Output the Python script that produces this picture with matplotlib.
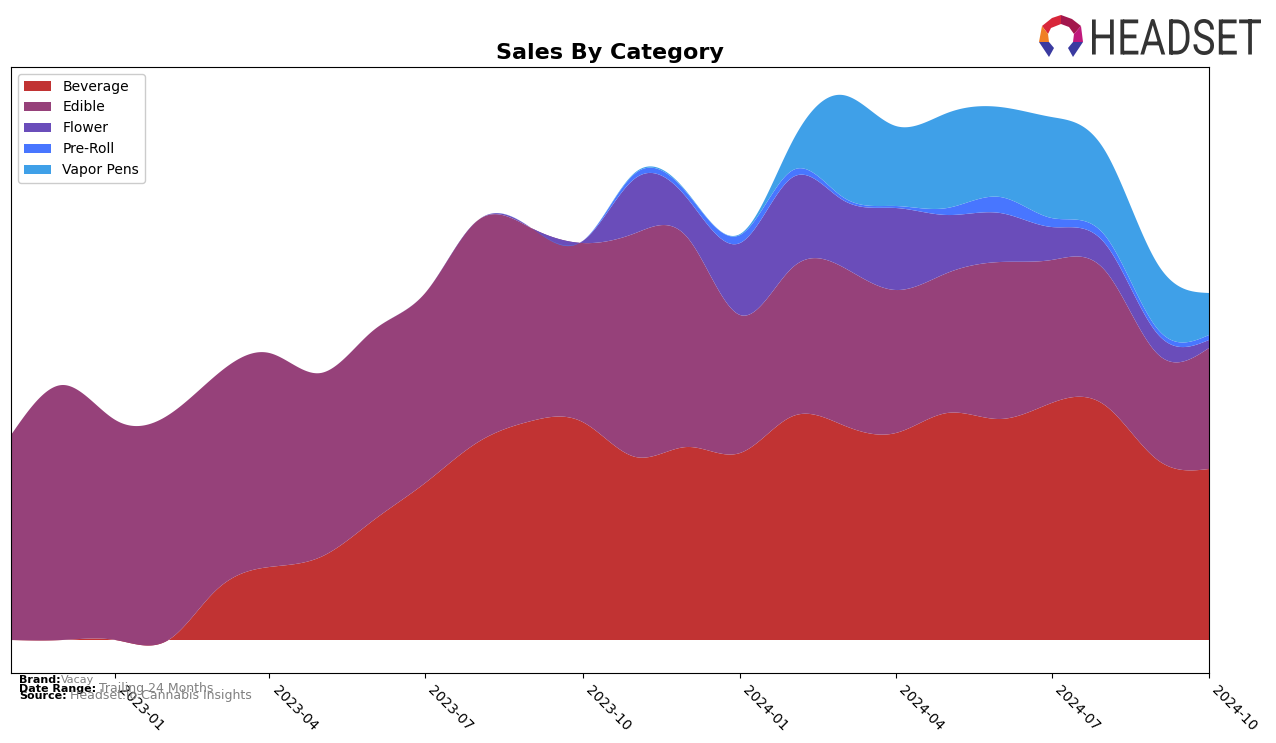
import numpy as np
import matplotlib.pyplot as plt
import matplotlib.dates as mdates
from matplotlib.patches import Polygon, PathPatch
from matplotlib.textpath import TextPath
from matplotlib.font_manager import FontProperties
from matplotlib.transforms import Affine2D

# monthly sales (arbitrary units)
months = np.arange('2022-11', '2024-11', dtype='datetime64[M]').astype('datetime64[D]')
categories = ['Beverage', 'Edible', 'Flower', 'Pre-Roll', 'Vapor Pens']
beverage = [0, 0, 0, 0, 50, 73, 83, 120, 157, 198, 219, 218,
            183, 193, 187, 224, 215, 207, 227, 221, 237, 235, 180, 171]
edible = [205, 255, 220, 225, 215, 214, 184, 190, 190, 222, 193, 179,
          224, 210, 138, 149, 158, 143, 140, 157, 143, 135, 106, 121]
flower = [0, 0, 0, 0, 0, 0, 0, 0, 0, 0, 0, 2,
          55, 39, 72, 90, 67, 82, 58, 49, 33, 27, 20, 8]
pre_roll = [0, 0, 0, 0, 0, 0, 0, 0, 0, 0, 0, 0,
            5, 5, 8, 7, 3, 2, 7, 16, 9, 8, 5, 5]
vapor_pens = [0, 0, 0, 0, 0, 0, 0, 0, 0, 0, 0, 0,
              1, 1, 1, 30, 102, 80, 95, 90, 101, 85, 65, 42]
colors = ['#c13333', '#96417a', '#6a4dba', '#4876ff', '#3fa0e8']

tick_dates = np.arange('2023-01', '2024-11', 3, dtype='datetime64[M]').astype('datetime64[D]')


def natural_spline(x, y, xs):
    # plain natural cubic spline, just to get the smooth look
    x = np.asarray(x, float)
    y = np.asarray(y, float)
    n = len(x)
    h = np.diff(x)
    A = np.zeros((n, n))
    b = np.zeros(n)
    A[0, 0] = A[-1, -1] = 1
    for i in range(1, n - 1):
        A[i, i - 1] = h[i - 1]
        A[i, i] = 2 * (h[i - 1] + h[i])
        A[i, i + 1] = h[i]
        b[i] = 3 * ((y[i + 1] - y[i]) / h[i] - (y[i] - y[i - 1]) / h[i - 1])
    c = np.linalg.solve(A, b)
    bc = (y[1:] - y[:-1]) / h - h * (2 * c[:-1] + c[1:]) / 3
    d = (c[1:] - c[:-1]) / (3 * h)
    idx = np.clip(np.searchsorted(x, xs) - 1, 0, n - 2)
    dx = xs - x[idx]
    return y[idx] + bc[idx] * dx + c[idx] * dx ** 2 + d[idx] * dx ** 3


x = mdates.date2num(months)
xs = np.linspace(x[0], x[-1], 800)
series = [beverage, edible, flower, pre_roll, vapor_pens]
smoothed = [natural_spline(x, s, xs) for s in series]

fig = plt.figure(figsize=(12.76, 7.43), dpi=100)
ax = fig.add_axes([11 / 1276, 70 / 743, 1198 / 1276, 606 / 743])

ax.stackplot(xs, *smoothed, labels=categories, colors=colors, linewidth=0)

ax.set_xlim(x[0], x[-1])
ax.set_ylim(-33, 573)
ax.set_yticks([])
ax.set_xticks(mdates.date2num(tick_dates))
ax.xaxis.set_major_formatter(mdates.DateFormatter('%Y-%m'))
plt.setp(ax.get_xticklabels(), rotation=-45, ha='left', fontsize=10)
ax.set_title('Sales By Category', fontsize=16, fontweight='bold', pad=6)
ax.legend(loc='upper left', fontsize=10, framealpha=1)

# footer
fig.text(19 / 1276, 1 - 683 / 743, 'Brand:', fontsize=8, fontweight='bold')
fig.text(61 / 1276, 1 - 683 / 743, 'Vacay', fontsize=8, color='gray')
fig.text(19 / 1276, 1 - 692 / 743, 'Date Range:', fontsize=8, fontweight='bold')
fig.text(99 / 1276, 1 - 692 / 743, 'Trailing 24 Months', fontsize=9, color='gray')
fig.text(19 / 1276, 1 - 699 / 743, 'Source:', fontsize=8, fontweight='bold')
fig.text(70 / 1276, 1 - 699 / 743, 'Headset.io Cannabis Insights', fontsize=9, color='gray')

# logo
lax = fig.add_axes([1036 / 1276, 1 - 60 / 743, 50 / 1276, 48 / 743])
lax.set_xlim(0, 50)
lax.set_ylim(48, 0)
lax.axis('off')
pieces = [
    ([(6, 14), (16, 6), (25, 3), (25, 12), (15, 16), (12, 22)], '#d8263a'),
    ([(25, 3), (36, 7), (45, 14), (38, 22), (33, 15), (25, 12)], '#a3174d'),
    ([(6, 14), (12, 22), (13, 30), (3, 30)], '#f07f24'),
    ([(45, 14), (47, 30), (37, 30), (38, 22)], '#c0197c'),
    ([(3, 30), (13, 30), (18, 36), (13, 45)], '#3a3aa0'),
    ([(47, 30), (37, 30), (32, 36), (37, 45)], '#3a3aa0'),
]
for pts, col in pieces:
    lax.add_patch(Polygon(pts, closed=True, color=col, lw=0))

tax = fig.add_axes([1092 / 1276, 1 - 55 / 743, 169 / 1276, 36 / 743])
tax.set_xlim(0, 1)
tax.set_ylim(0, 1)
tax.axis('off')
tp = TextPath((0, 0), 'HEADSET', size=10, prop=FontProperties(family='Roboto', weight='normal'))
bb = tp.get_extents()
logo_path = Affine2D().translate(-bb.x0, -bb.y0).scale(1 / bb.width, 1 / bb.height).transform_path(tp)
tax.add_patch(PathPatch(logo_path, color='#333333', lw=0))

fig.savefig('out.png', dpi=100)
